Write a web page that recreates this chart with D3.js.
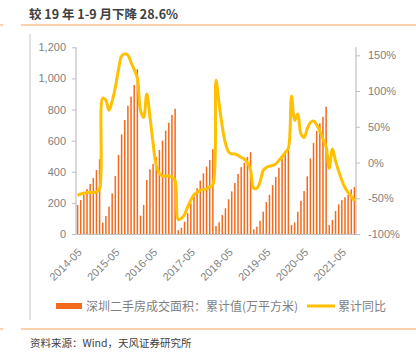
<!DOCTYPE html>
<html><head><meta charset="utf-8">
<script src="https://cdn.jsdelivr.net/npm/d3@7"></script>
<style>
body{margin:0;background:#fff;}
svg{display:block;font-family:"Noto Sans CJK SC","Noto Sans",sans-serif;}
</style>
</head><body>
<svg id="c" width="416" height="355"></svg>
<script>
// ---- data ----
const titleText = "较 19 年 1-9 月下降 28.6%";
const sourceText = "资料来源：Wind，天风证券研究所";
const seriesNames = ["深圳二手房成交面积：累计值(万平方米)", "累计同比"];
const xTickLabels = ["2014-05","2015-05","2016-05","2017-05","2018-05","2019-05","2020-05","2021-05"];
const leftTicks = [0, 200, 400, 600, 800, 1000, 1200];
const rightTicks = [-100, -50, 0, 50, 100, 150];

// cumulative area (10k m²), monthly, 2014-05 .. 2021-09
const area2014 = [186, 218, 255, 289, 321, 360, 411, 480];
const area2015 = [73, 116, 176, 261, 373, 508, 640, 733, 825, 883, 958, 1060];
const area2016 = [118, 186, 347, 416, 450, 495, 540, 600, 664, 715, 765, 805];
const area2017 = [24, 40, 79, 133, 197, 240, 294, 343, 390, 433, 476, 545];
const area2018 = [51, 75, 122, 165, 223, 274, 328, 386, 430, 458, 495, 526];
const area2019 = [30, 47, 84, 143, 205, 252, 314, 366, 426, 486, 530, 555];
const area2020 = [58, 75, 143, 213, 276, 370, 486, 585, 662, 711, 754, 818];
const area2021 = [58, 90, 148, 191, 218, 236, 251, 287, 302];

// cumulative YoY (%)
const yoy2014 = [-46, -44, -43, -42, -42, -42, -41, -37];
const yoy2015 = [90, 87, 73, 86, 105, 130, 149, 152, 150, 140, 130, 118];
const yoy2016 = [73, 63, 96, 64, 27, -4, -15, -19, -19, -19, -20, -25];
const yoy2017 = [-80, -78, -73, -62, -53, -45, -42, -39, -38, -37, -34, -31];
const yoy2018 = [115, 82, 50, 27, 15, 12, 12, 10, 7, 5, 0, -11];
const yoy2019 = [-36, -36, -27, -11, -7, -5, -4, -2, 3, 8, 14, 20];
const yoy2020 = [93, 59, 68, 40, 35, 47, 56, 58, 53, 44, 33, 22];
const yoy2021 = [-8, 19, 2, -12, -25, -35, -42, -47, -54];

const area = [].concat(area2014, area2015, area2016, area2017, area2018, area2019, area2020, area2021);
const yoy = [].concat(yoy2014, yoy2015, yoy2016, yoy2017, yoy2018, yoy2019, yoy2020, yoy2021);
const fmtM = d3.timeFormat("%Y-%m");
const categories = d3.timeMonth.range(new Date(2014, 4, 1), new Date(2021, 9, 1)).map(fmtM);

// ---- drawing ----
const svg = d3.select("#c");
const BAR = "#F26A1B", LINE = "#FFC000", AX = "#BFBFBF", TXT = "#7F7F7F", RULE = "#F5A562";
const plot = {l: 76, r: 356, t: 47.3, b: 234};

// page decorations
svg.append("line").attr("x1", 21).attr("x2", 416).attr("y1", 25).attr("y2", 25).attr("stroke", RULE).attr("stroke-width", 1);
svg.append("line").attr("x1", 0).attr("x2", 3).attr("y1", 25).attr("y2", 25).attr("stroke", RULE).attr("stroke-width", 1);
svg.append("line").attr("x1", 21).attr("x2", 416).attr("y1", 329).attr("y2", 329).attr("stroke", RULE).attr("stroke-width", 1);
svg.append("line").attr("x1", 0).attr("x2", 3).attr("y1", 329).attr("y2", 329).attr("stroke", RULE).attr("stroke-width", 1);
svg.append("line").attr("x1", 30).attr("x2", 30).attr("y1", 34).attr("y2", 320).attr("stroke", "#C8C8C8").attr("stroke-width", 1);

svg.append("text").attr("x", 29).attr("y", 18.5).attr("font-size", 12.5).attr("font-weight", "bold")
  .attr("fill", "#404040").text(titleText);
svg.append("text").attr("x", 30).attr("y", 346.5).attr("font-size", 10.5)
  .attr("fill", "#404040").text(sourceText);

// scales
const x = d3.scaleBand().domain(categories).range([plot.l, plot.r]).paddingInner(0.52).paddingOuter(0.26);
const yL = d3.scaleLinear().domain([0, 1200]).range([plot.b, plot.t]);
const yR = d3.scaleLinear().domain([-100, 150]).range([plot.b, 55.3]);
const cx = d => x(d) + x.bandwidth() / 2;

// bars
svg.append("g").selectAll("rect").data(categories).join("rect")
  .attr("x", d => x(d)).attr("width", x.bandwidth())
  .attr("y", (d, i) => yL(area[i])).attr("height", (d, i) => yL(0) - yL(area[i]))
  .attr("fill", BAR);

// axes
const fontNum = "'Liberation Sans', Arial, sans-serif";
const gL = svg.append("g").attr("transform", `translate(${plot.l},0)`)
  .call(d3.axisLeft(yL).tickValues(leftTicks).tickFormat(d3.format(",")).tickSize(4).tickPadding(6));
const gR = svg.append("g").attr("transform", `translate(${plot.r},0)`)
  .call(d3.axisRight(yR).tickValues(rightTicks).tickFormat(d => d + "%").tickSize(4).tickPadding(8));
[gL, gR].forEach(g => {
  g.select(".domain").remove();
  g.selectAll(".tick line").attr("stroke", AX);
  g.selectAll(".tick text").attr("fill", TXT).attr("font-size", 11).attr("font-family", fontNum);
});
svg.append("line").attr("x1", plot.l).attr("x2", plot.l).attr("y1", plot.t).attr("y2", plot.b).attr("stroke", AX).attr("stroke-width", 1.2);
svg.append("line").attr("x1", plot.r).attr("x2", plot.r).attr("y1", plot.t).attr("y2", plot.b).attr("stroke", AX).attr("stroke-width", 1.2);

const gX = svg.append("g").attr("transform", `translate(0,${plot.b})`)
  .call(d3.axisBottom(x).tickValues(xTickLabels).tickSize(0).tickPadding(0));
gX.select(".domain").attr("stroke", AX).attr("stroke-width", 1.2);
gX.selectAll(".tick text")
  .attr("fill", TXT).attr("font-size", 11).attr("font-family", fontNum)
  .attr("text-anchor", "end").attr("dy", null).attr("y", 0)
  .attr("transform", "translate(5,19) rotate(-45)");

// line
const line = d3.line().x((d, i) => cx(categories[i])).y(d => yR(d)).curve(d3.curveCatmullRom.alpha(0.5));
svg.append("path").datum(yoy).attr("d", line).attr("fill", "none")
  .attr("stroke", LINE).attr("stroke-width", 3).attr("stroke-linejoin", "round");

// legend
const lg = svg.append("g");
lg.append("rect").attr("x", 56).attr("y", 303).attr("width", 26).attr("height", 6).attr("fill", BAR);
lg.append("text").attr("x", 86).attr("y", 310.5).attr("font-size", 12).attr("fill", TXT).text(seriesNames[0]);
lg.append("line").attr("x1", 307).attr("x2", 335).attr("y1", 306).attr("y2", 306).attr("stroke", LINE).attr("stroke-width", 3);
lg.append("text").attr("x", 338).attr("y", 310.5).attr("font-size", 12).attr("fill", TXT).text(seriesNames[1]);
</script>
</body></html>
